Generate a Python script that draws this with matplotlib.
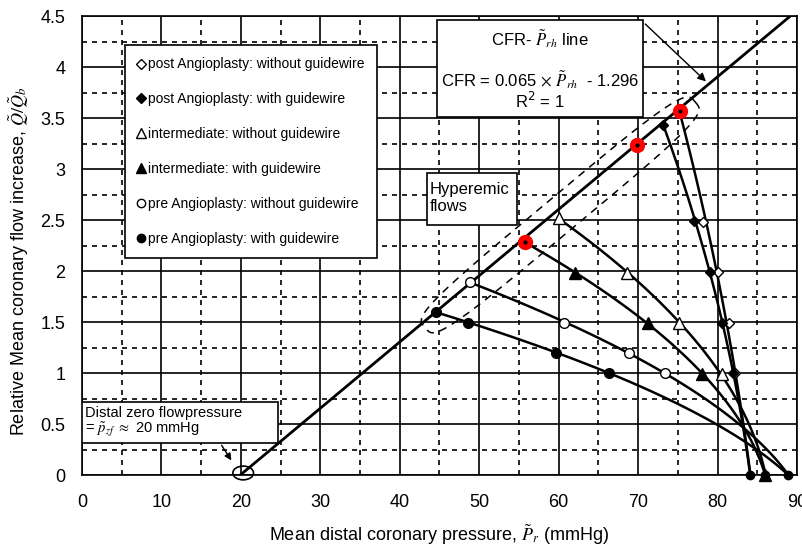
import numpy as np
import matplotlib.pyplot as plt
from matplotlib.patches import Rectangle, Ellipse
from matplotlib.lines import Line2D
from matplotlib.ticker import MultipleLocator, FormatStrFormatter

plt.rcParams['font.family'] = ['Liberation Sans', 'DejaVu Sans']

# readings: distal pressure (mmHg) vs relative flow
post_wo_p = [78.2, 80.0, 81.4, 82.2]
post_wo_q = [2.48, 1.99, 1.49, 1.00]
post_w_p = [73.2, 77.1, 79.1, 80.6, 82.0]
post_w_q = [3.43, 2.49, 1.99, 1.49, 1.00]
int_wo_p = [60.0, 68.6, 75.2, 80.6]
int_wo_q = [2.52, 1.98, 1.49, 0.99]
int_w_p = [62.1, 71.2, 78.1]
int_w_q = [1.98, 1.49, 0.99]
pre_wo_p = [48.9, 60.7, 68.8, 73.4]
pre_wo_q = [1.89, 1.49, 1.20, 1.00]
pre_w_p = [44.6, 48.6, 59.7, 66.4]
pre_w_q = [1.60, 1.49, 1.20, 1.00]

# hyperemic points on the CFR line
red_p = [55.8, 69.9, 75.3]
red_q = [2.28, 3.24, 3.57]

# zero flow intercepts (post, intermediate, pre)
zero_p = [84.1, 86.0, 88.9]

cfr_slope = 0.065
cfr_icpt = -1.296

fig = plt.figure(figsize=(8.03, 5.48), dpi=100)
ax = fig.add_axes([0.102, 0.1332, 0.8905, 0.8376])
ax.set_xlim(0, 90)
ax.set_ylim(0, 4.5)

ax.xaxis.set_major_locator(MultipleLocator(10))
ax.xaxis.set_minor_locator(MultipleLocator(5))
ax.yaxis.set_major_locator(MultipleLocator(0.5))
ax.yaxis.set_minor_locator(MultipleLocator(0.25))
ax.yaxis.set_major_formatter(FormatStrFormatter('%g'))
ax.grid(which='major', color='black', lw=1.2, ls='-')
ax.grid(which='minor', color='black', lw=1.2, ls=(0, (3, 3)))
ax.set_axisbelow(True)
ax.tick_params(which='both', length=0)
ax.tick_params(axis='x', pad=14)
ax.tick_params(axis='y', pad=12)
for lab in ax.get_xticklabels() + ax.get_yticklabels():
    lab.set_fontfamily(['Liberation Sans Narrow', 'Liberation Sans'])
    lab.set_fontsize(13)
for s in ax.spines.values():
    s.set_linewidth(1.2)

# CFR line
p_line = np.array([20.0, 90.0])
ax.plot(p_line, cfr_slope * p_line + cfr_icpt, color='black', lw=2, zorder=3)

# hyperemic band (dashed closed outline around the line)
fig.canvas.draw()
T = ax.transData
c = T.transform((60.2, 2.55))
d = T.transform((80, cfr_slope * 80 + cfr_icpt)) - T.transform((40, cfr_slope * 40 + cfr_icpt))
e1 = d / np.hypot(*d)
e2 = np.array([-e1[1], e1[0]])
t = np.linspace(0, 2 * np.pi, 300)
u = 176 * np.sign(np.cos(t)) * np.abs(np.cos(t)) ** 0.5
v = 18 * np.sign(np.sin(t)) * np.abs(np.sin(t)) ** 0.5
band = T.inverted().transform(c + np.outer(u, e1) + np.outer(v, e2))
ax.plot(band[:, 0], band[:, 1], color='black', lw=1.1, ls=(0, (5, 4)), zorder=2)

# fitted curves for each stage
curves = [
    ([red_p[2]] + post_wo_p + [zero_p[0]], [red_q[2]] + post_wo_q + [0]),
    (post_w_p + [zero_p[0]], post_w_q + [0]),
    (int_wo_p + [zero_p[1]], int_wo_q + [0]),
    ([red_p[0]] + int_w_p + [zero_p[1]], [red_q[0]] + int_w_q + [0]),
    (pre_wo_p + [zero_p[2]], pre_wo_q + [0]),
    (pre_w_p + [zero_p[2]], pre_w_q + [0]),
]
for px, qy in curves:
    coef = np.polyfit(qy, px, 2)
    qq = np.linspace(0, qy[0], 100)
    ax.plot(np.polyval(coef, qq), qq, color='black', lw=1.8, zorder=3)

ax.plot(post_wo_p, post_wo_q, 'D', ms=5, mfc='white', mec='black', zorder=4)
ax.plot(post_w_p, post_w_q, 'D', ms=5, mfc='black', mec='black', zorder=4)
ax.plot(int_wo_p, int_wo_q, '^', ms=8, mfc='white', mec='black', zorder=4)
ax.plot(int_w_p, int_w_q, '^', ms=8, mfc='black', mec='black', zorder=4)
ax.plot(pre_wo_p, pre_wo_q, 'o', ms=7, mfc='white', mec='black', zorder=4)
ax.plot(pre_w_p, pre_w_q, 'o', ms=7, mfc='black', mec='black', zorder=4)
ax.plot(zero_p, [0, 0, 0], ls='none', marker='o', ms=6, color='black', zorder=5, clip_on=False)
ax.plot(zero_p[1], 0, '^', ms=8, color='black', zorder=5, clip_on=False)

ax.plot(red_p, red_q, 'o', ms=10, mfc='red', mec='red', zorder=5)
ax.plot(red_p, red_q, 'o', ms=2, color='black', zorder=6)

# legend
handles = [
    Line2D([], [], ls='none', marker='D', ms=5, mfc='white', mec='black'),
    Line2D([], [], ls='none', marker='D', ms=5, mfc='black', mec='black'),
    Line2D([], [], ls='none', marker='^', ms=7, mfc='white', mec='black'),
    Line2D([], [], ls='none', marker='^', ms=7, mfc='black', mec='black'),
    Line2D([], [], ls='none', marker='o', ms=6, mfc='white', mec='black'),
    Line2D([], [], ls='none', marker='o', ms=6, mfc='black', mec='black'),
]
labels = ['post Angioplasty: without guidewire', 'post Angioplasty: with guidewire',
          'intermediate: without guidewire', 'intermediate: with guidewire',
          'pre Angioplasty: without guidewire', 'pre Angioplasty: with guidewire']
leg = ax.legend(handles, labels, loc='upper left', bbox_to_anchor=(0.06, 0.937),
                fontsize=10, labelspacing=1.5, handlelength=0.6, handletextpad=0.2,
                borderpad=0.9, borderaxespad=0, fancybox=False, framealpha=1,
                edgecolor='black')
leg.get_frame().set_linewidth(1.2)
leg.set_zorder(10)

# CFR box
ax.add_patch(Rectangle((0.4965, 0.78), 0.288, 0.211, transform=ax.transAxes,
                       facecolor='white', edgecolor='black', lw=1.2, zorder=8))
ax.text(0.6406, 0.95, r'CFR- $\tilde{P}_{rh}$ line', transform=ax.transAxes, ha='center',
        va='center', fontsize=12, zorder=9, math_fontfamily='stix')
ax.text(0.6406, 0.862, r'CFR = 0.065 $\times$ $\tilde{P}_{rh}$  - 1.296', transform=ax.transAxes,
        ha='center', va='center', fontsize=12, zorder=9, math_fontfamily='stix')
ax.text(0.6406, 0.814, r'R$^2$ = 1', transform=ax.transAxes, ha='center', va='center',
        fontsize=12, zorder=9)
ax.annotate('', xy=(78.8, 3.84), xytext=(70.65, 4.44),
            arrowprops=dict(arrowstyle='-|>', color='black', lw=1, mutation_scale=12), zorder=9)

# Hyperemic box
ax.add_patch(Rectangle((0.4825, 0.5447), 0.126, 0.1133, transform=ax.transAxes,
                       facecolor='white', edgecolor='black', lw=1.2, zorder=8))
ax.text(0.486, 0.6035, 'Hyperemic\nflows', transform=ax.transAxes, ha='left', va='center',
        fontsize=12, linespacing=1.2, zorder=9)

# distal zero flow box
ax.add_patch(Rectangle((0.0, 0.0697), 0.274, 0.0893, transform=ax.transAxes,
                       facecolor='white', edgecolor='black', lw=1.2, zorder=8))
ax.text(0.004, 0.114, 'Distal zero flowpressure\n' + r'= $\tilde{p}_{zf}$ $\approx$ 20 mmHg',
        transform=ax.transAxes, ha='left', va='center', fontsize=10.5, linespacing=1.05,
        zorder=9, math_fontfamily='stix')
ax.annotate('', xy=(19.0, 0.12), xytext=(17.4, 0.314),
            arrowprops=dict(arrowstyle='-|>', color='black', lw=1, mutation_scale=10), zorder=9)
ax.add_patch(Ellipse((20.3, 0.02), 2.6, 0.135, facecolor='none', edgecolor='black',
                     lw=1.2, zorder=9, clip_on=False))

ax.set_xlabel(r'Mean distal coronary pressure, $\tilde{P}_r$ (mmHg)', fontsize=13,
              labelpad=8, math_fontfamily='stix')
ax.set_ylabel(r'Relative Mean coronary flow increase, $\tilde{Q}/\tilde{Q}_b$', fontsize=13,
              math_fontfamily='stix')
ax.yaxis.set_label_coords(-0.071, 0.465)

plt.savefig('out.png', dpi=100)
